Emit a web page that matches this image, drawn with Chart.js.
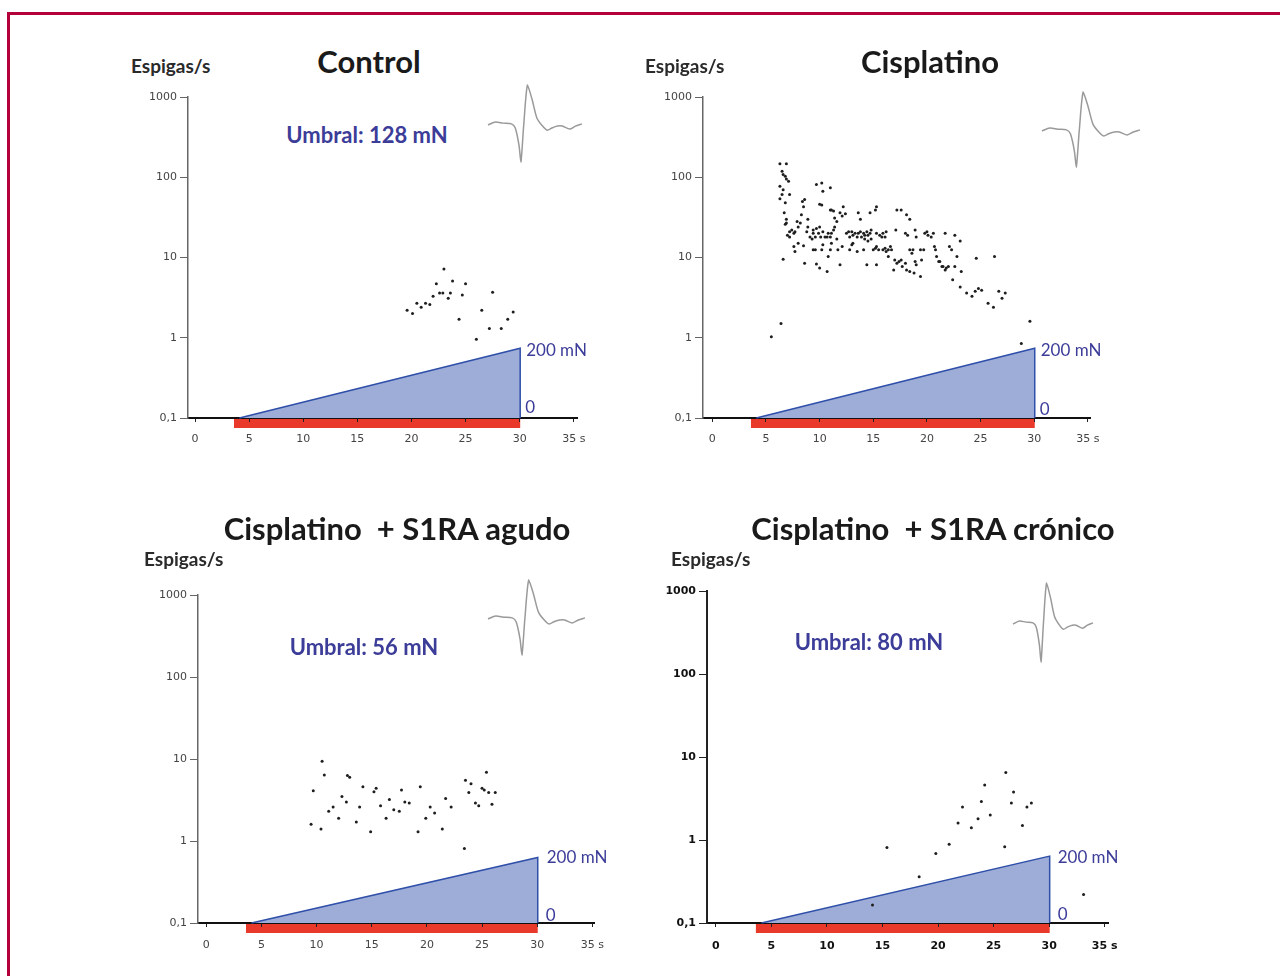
<!DOCTYPE html>
<html>
<head>
<meta charset="utf-8">
<script src="https://cdn.jsdelivr.net/npm/chart.js@4/dist/chart.umd.min.js"></script>
<style>
  body { margin: 0; width: 1280px; height: 976px; background: #fff; position: relative; overflow: hidden; font-family: Lato, sans-serif; }
  .frame { position: absolute; left: 7px; top: 12px; width: 1300px; height: 1000px; border-top: 3px solid #b3003b; border-left: 3px solid #b3003b; }
  canvas { position: absolute; }
  .txt { position: absolute; white-space: pre; transform: translate(-50%, -50%); }
  .title { font-size: 31px; font-weight: 700; color: #1a1a1a; }
  .unit { font-size: 19px; font-weight: 700; color: #2a2a2a; transform: translate(0, -50%); }
  .umbral { font-size: 22px; font-weight: 700; color: #3c3c99; }
</style>
</head>
<body>
<div class="frame"></div>
<script>
// ---- data ----
const yTicks = [0.1, 1, 10, 100, 1000];
const xTicks = [0, 5, 10, 15, 20, 25, 30, 35];
const stim = [3.6, 30.05];          // red stimulus bar (s)
const ramp = [4.1, 30.05];          // force ramp 0 -> 200 mN (s)
const rampPeak = [0.74, 0.74, 0.63, 0.64]; // ramp top on the rate axis

const titles = ['Control', 'Cisplatino', 'Cisplatino  + S1RA agudo', 'Cisplatino  + S1RA crónico'];
const umbrales = ['Umbral: 128 mN', '', 'Umbral: 56 mN', 'Umbral: 80 mN'];

const ctrlTime = [23.0, 23.8, 22.3, 25.0, 22.6, 22.9, 23.6, 22.0, 24.7, 27.5, 23.4, 20.5, 21.3, 21.7, 20.9, 19.6, 20.1, 26.5, 29.4, 24.4, 28.9, 27.2, 28.3, 26.0];
const ctrlRate = [7.2, 5.1, 4.7, 4.7, 3.6, 3.6, 3.6, 3.3, 3.4, 3.7, 3.1, 2.7, 2.7, 2.6, 2.4, 2.2, 2.0, 2.2, 2.1, 1.7, 1.7, 1.3, 1.3, 0.96];

const cispTime = [
  6.3, 6.9, 6.5, 6.6, 6.8, 6.9, 6.3, 7.1, 6.6, 6.5,
  6.8, 7.2, 6.3, 6.7, 6.9, 6.8, 6.9, 7.2, 7.0, 7.2,
  7.6, 7.4, 7.7, 6.6, 6.4, 5.5, 7.9, 8.0, 8.2, 8.3,
  8.5, 8.4, 8.6, 8.8, 8.9, 9.1, 9.3, 9.4, 9.4, 9.6,
  9.7, 9.9, 10.0, 10.1, 10.3, 10.5, 10.7, 10.8, 11.0, 11.1,
  7.6, 7.7, 8.0, 8.5, 8.6, 8.9, 9.4, 9.6, 9.7, 10.0,
  10.2, 10.3, 10.7, 10.8, 11.0, 11.1, 11.3, 11.4, 11.6, 11.7,
  11.9, 12.1, 9.7, 10.2, 10.3, 11.0, 10.0, 10.2, 11.0, 11.1,
  11.3, 11.4, 11.6, 11.9, 12.1, 12.2, 12.4, 12.5, 12.7, 12.8,
  13.0, 13.1, 13.3, 13.5, 13.6, 13.8, 13.9, 14.1, 14.2, 14.4,
  14.5, 14.7, 14.8, 12.8, 13.0, 13.1, 13.5, 13.6, 13.8, 14.1,
  14.2, 14.4, 14.5, 14.7, 14.8, 15.0, 15.2, 15.3, 15.5, 15.3,
  15.2, 15.3, 15.3, 15.6, 15.8, 15.9, 16.1, 16.2, 16.4, 16.6,
  15.9, 16.1, 16.2, 16.4, 16.7, 16.9, 17.0, 17.2, 17.1, 17.2,
  17.6, 18.1, 18.4, 18.0, 18.2, 18.4, 18.6, 18.9, 19.0, 18.7,
  17.4, 17.6, 17.7, 18.0, 18.1, 18.4, 18.8, 19.4, 19.0, 18.9,
  19.4, 19.5, 19.7, 19.8, 20.0, 20.1, 20.4, 20.6, 20.7, 20.8,
  20.9, 21.1, 21.2, 21.4, 21.5, 21.7, 21.8, 22.0, 21.7, 22.1,
  22.3, 22.6, 22.8, 22.6, 22.4, 23.1, 23.2, 24.6, 26.3, 23.1,
  23.7, 24.2, 24.5, 24.8, 25.1, 25.7, 26.2, 26.7, 27.0, 27.3,
  29.6, 28.8
];
const cispRate = [
  147, 147, 119, 108, 103, 95, 77, 89, 70, 61,
  48, 61, 54, 36, 30, 26, 27, 21, 19, 18,
  20, 22, 21, 9.5, 1.5, 1.03, 28, 24, 27, 34,
  43, 50, 53, 21, 24, 18, 17, 20, 22, 18,
  23, 20, 24, 18, 21, 18, 18, 20, 18, 15,
  13.7, 11.9, 15, 14, 8.5, 30, 12.5, 12.5, 8.3, 7.4,
  12.5, 14.4, 6.7, 10.3, 12.5, 20, 22, 24, 17, 12.5,
  8.1, 13.7, 81, 85, 67, 74, 46, 45, 39, 39,
  38, 31, 28, 36, 33, 43, 35, 20, 21, 18,
  21, 19, 20, 18, 20, 21, 18, 20, 19, 21,
  19, 20, 22, 12.5, 14.4, 15, 11.9, 36, 30, 12.5,
  17, 8.1, 16, 36, 17, 12.5, 13, 13.7, 12.5, 8.1,
  39, 43, 20, 19, 18, 20, 18, 21, 12.5, 13.7,
  12.5, 13, 11.9, 10.3, 12.5, 7.0, 9.3, 8.5, 22, 39,
  39, 34, 30, 20, 19, 12.5, 11.3, 22, 18, 12.5,
  8.9, 9.3, 7.7, 8.5, 7.0, 6.7, 6.4, 5.8, 8.1, 8.9,
  12.5, 9.3, 12.5, 20, 21, 19, 18, 20, 13.7, 12.5,
  10.3, 8.9, 8.9, 7.7, 7.7, 7.0, 7.4, 7.7, 20, 13.7,
  12.5, 19, 10.3, 7.7, 5.3, 16, 6.7, 9.8, 10.3, 4.3,
  3.6, 3.3, 3.8, 4.1, 3.9, 2.7, 2.4, 3.8, 3.1, 3.6,
  1.6, 0.85
];

const agudoTime = [10.5, 10.7, 9.7, 12.8, 13.0, 14.2, 15.4, 15.2, 17.7, 19.4, 12.3, 12.7, 11.5, 11.1, 13.9, 15.8, 16.6, 18.0, 18.4, 17.0, 17.5, 20.3, 21.7, 22.2, 20.7, 19.9, 16.3, 13.6, 12.0, 9.5, 10.4, 14.9, 19.2, 21.4, 23.4, 23.5, 24.0, 25.4, 25.0, 25.2, 23.8, 25.6, 26.2, 24.4, 24.7, 25.9];
const agudoRate = [9.4, 6.4, 4.1, 6.3, 6.0, 4.6, 4.4, 4.0, 4.2, 4.6, 3.5, 3.0, 2.6, 2.3, 2.6, 2.7, 3.2, 3.0, 2.9, 2.4, 2.3, 2.6, 3.3, 2.6, 2.2, 1.9, 1.9, 1.7, 1.9, 1.6, 1.4, 1.3, 1.3, 1.4, 0.81, 5.5, 5.0, 6.9, 4.4, 4.2, 3.9, 3.9, 3.9, 2.9, 2.7, 2.8];

const cronTime = [26.1, 24.2, 26.8, 23.9, 26.6, 28.4, 28.0, 22.2, 24.7, 23.6, 21.8, 23.0, 27.6, 21.0, 26.0, 19.8, 15.4, 18.3, 14.1, 33.1];
const cronRate = [6.5, 4.6, 3.8, 2.9, 2.8, 2.8, 2.5, 2.5, 2.0, 1.8, 1.6, 1.4, 1.5, 0.89, 0.83, 0.69, 0.81, 0.36, 0.165, 0.22];

// spike waveform (normalised time, amplitude)
const spikeT = [0, 0.08, 0.16, 0.25, 0.29, 0.33, 0.35, 0.38, 0.42, 0.47, 0.52, 0.58, 0.63, 0.68, 0.74, 0.79, 0.87, 0.93, 1];
const spikeV = [0, 0.08, 0.05, 0.03, -0.08, -0.55, -1.0, 0, 1.08, 0.68, 0.19, -0.03, -0.14, -0.08, -0.03, -0.03, -0.11, -0.03, 0.03];

const series = [[ctrlTime, ctrlRate], [cispTime, cispRate], [agudoTime, agudoRate], [cronTime, cronRate]];

// ---- layout (page pixels) ----
const panels = [
  { L: 188, T: 97, R: 577, B: 418, xmin: -0.65, xmax: 35.3, bold: false, xpad: 11, lab: [6, 2, 5, -10],
    title: [369, 61], unit: [131, 65], umb: [367, 134], spike: [488, 85, 582, 162] },
  { L: 703, T: 97, R: 1090, B: 418, xmin: -0.87, xmax: 35.2, bold: false, xpad: 11, lab: [6, 2, 5, -8],
    title: [930, 61], unit: [645, 65], umb: null, spike: [1042, 92, 1140, 167] },
  { L: 198, T: 595, R: 594, B: 923, xmin: -0.75, xmax: 35.15, bold: false, xpad: 12, lab: [9, 0, 8, -7],
    title: [397, 528], unit: [144, 558], umb: [364, 646], spike: [488, 580, 585, 655] },
  { L: 707, T: 591, R: 1108, B: 923, xmin: -0.8, xmax: 35.3, bold: true, xpad: 13, lab: [8, 1, 8, -8],
    title: [933, 528], unit: [671, 558], umb: [869, 641], spike: [1013, 583, 1093, 662] }
];

const YW = 50, XH = 32;
const blue = '#3c3c99';

const stimBar = {
  id: 'stimBar',
  beforeDraw(chart) {
    const x = chart.scales.x, ctx = chart.ctx;
    const a = x.getPixelForValue(stim[0]), b = x.getPixelForValue(stim[1]);
    ctx.save();
    ctx.fillStyle = '#e8392b';
    ctx.fillRect(a, chart.chartArea.bottom, b - a, 10);
    ctx.restore();
  }
};

const rampLabels = {
  id: 'rampLabels',
  afterDatasetsDraw(chart, args, opts) {
    const x = chart.scales.x, y = chart.scales.y, ctx = chart.ctx;
    const px = x.getPixelForValue(ramp[1]);
    const py = y.getPixelForValue(opts.peak);
    ctx.save();
    ctx.fillStyle = blue;
    ctx.font = '17px Lato';
    ctx.textBaseline = 'middle';
    ctx.fillText('200 mN', px + opts.lab[0], py + opts.lab[1]);
    ctx.fillText('0', px + opts.lab[2], chart.chartArea.bottom + opts.lab[3]);
    ctx.restore();
  }
};

function addText(cls, text, pos) {
  const d = document.createElement('div');
  d.className = 'txt ' + cls;
  d.textContent = text;
  d.style.left = pos[0] + 'px';
  d.style.top = pos[1] + 'px';
  document.body.appendChild(d);
}

panels.forEach((p, i) => {
  addText('title', titles[i], p.title);
  addText('unit', 'Espigas/s', p.unit);
  if (p.umb) addText('umbral', umbrales[i], p.umb);

  const cv = document.createElement('canvas');
  cv.width = 1280; cv.height = 976;
  cv.style.left = '0px'; cv.style.top = '0px';
  document.body.appendChild(cv);

  const [times, rates] = series[i];
  const tickFont = { family: 'DejaVu Sans', size: 11, weight: p.bold ? 'bold' : 'normal' };
  const tickColor = p.bold ? '#111' : '#444';

  new Chart(cv, {
    type: 'scatter',
    data: {
      datasets: [
        {
          data: times.map((t, k) => ({ x: t, y: rates[k] })),
          pointRadius: 1.5, pointBackgroundColor: '#1e1e1e', pointBorderWidth: 0, order: 0
        },
        {
          type: 'line',
          data: [{ x: ramp[0], y: 0.1 }, { x: ramp[1], y: rampPeak[i] }, { x: ramp[1], y: 0.1 }],
          borderColor: '#2f4fa8', borderWidth: 1.5, backgroundColor: '#9dadd8',
          fill: 'start', pointRadius: 0, tension: 0, clip: false, order: 1
        }
      ]
    },
    options: {
      responsive: false, animation: false, devicePixelRatio: 1, events: [],
      layout: { padding: { left: p.L - YW, top: p.T, right: 1280 - p.R, bottom: 976 - p.B - XH } },
      plugins: { legend: { display: false }, tooltip: { enabled: false },
                 rampLabels: { peak: rampPeak[i], lab: p.lab } },
      scales: {
        x: {
          type: 'linear', min: p.xmin, max: p.xmax,
          afterBuildTicks: s => { s.ticks = xTicks.map(v => ({ value: v })); },
          afterFit: s => { s.height = XH; },
          grid: { drawOnChartArea: false, tickLength: 4, color: '#222' },
          border: { color: '#111', width: 2 },
          ticks: { font: tickFont, color: tickColor, padding: p.xpad, maxRotation: 0, autoSkip: false,
                   callback: v => v === 35 ? '35 s' : String(v) }
        },
        y: {
          type: 'logarithmic', min: 0.1, max: 1000,
          afterBuildTicks: s => { s.ticks = yTicks.map(v => ({ value: v })); },
          afterFit: s => { s.width = YW; },
          grid: { drawOnChartArea: false, tickLength: 8, color: p.bold ? '#222' : '#666' },
          border: { color: p.bold ? '#222' : '#666', width: p.bold ? 2 : 1.5 },
          ticks: { font: tickFont, color: tickColor, padding: 3,
                   callback: v => v === 0.1 ? '0,1' : String(v) }
        }
      }
    },
    plugins: [stimBar, rampLabels]
  });

  // spike waveform inset
  const [sx0, sy0, sx1, sy1] = p.spike, m = 3;
  const sc = document.createElement('canvas');
  sc.width = sx1 - sx0 + 2 * m; sc.height = sy1 - sy0 + 2 * m;
  sc.style.left = (sx0 - m) + 'px'; sc.style.top = (sy0 - m) + 'px';
  document.body.appendChild(sc);
  new Chart(sc, {
    type: 'line',
    data: { datasets: [{ data: spikeT.map((t, k) => ({ x: t, y: spikeV[k] })), borderColor: '#9a9a9a',
                         borderWidth: 1.5, pointRadius: 0, tension: 0.25, clip: false }] },
    options: {
      responsive: false, animation: false, devicePixelRatio: 1, events: [],
      layout: { padding: m },
      plugins: { legend: { display: false }, tooltip: { enabled: false } },
      scales: { x: { type: 'linear', min: 0, max: 1, display: false },
                y: { min: -1, max: 1.08, display: false } }
    }
  });
});
</script>
</body>
</html>
